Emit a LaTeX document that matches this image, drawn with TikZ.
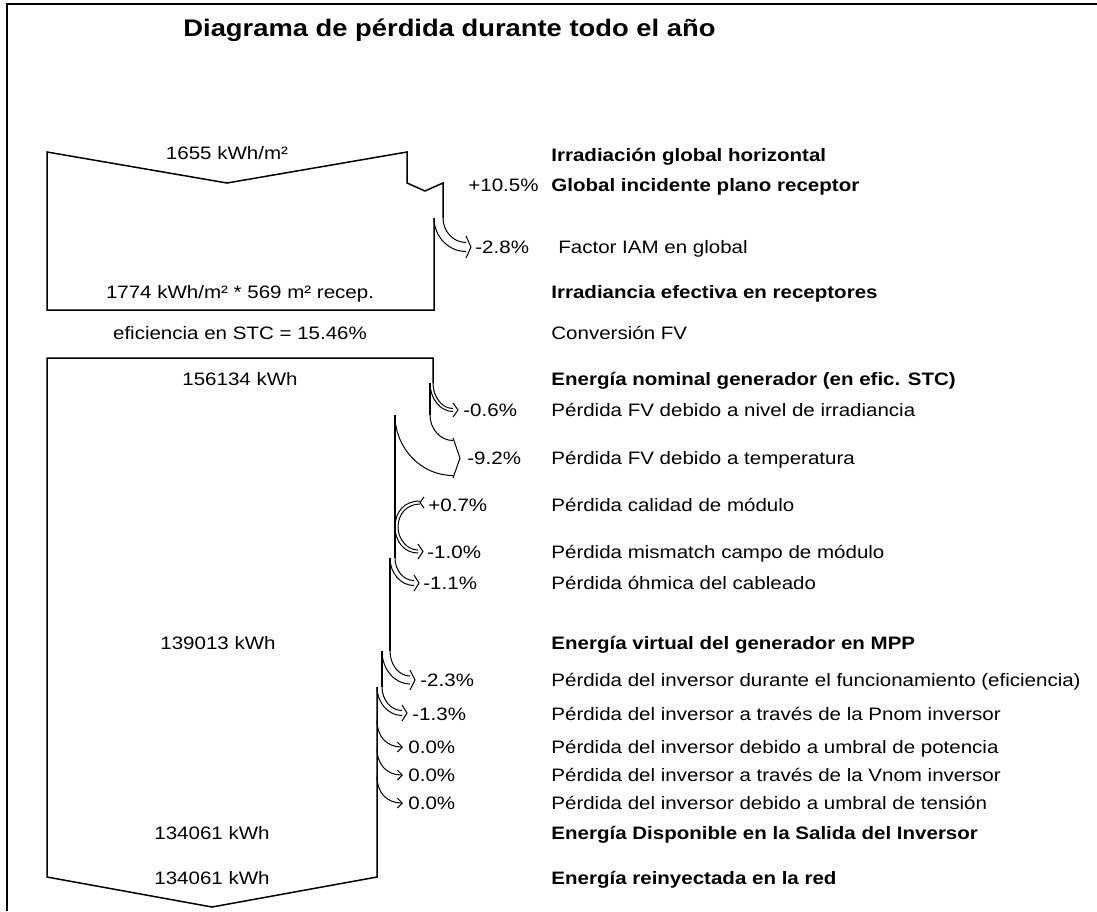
\documentclass[tikz,border=0pt]{standalone}
\usepackage{fontspec}
\setmainfont[FakeStretch=1.14]{Liberation Sans}
\usetikzlibrary{arrows.meta}
\tikzset{
  box/.style={line width=0.75pt, line join=miter},
  band/.style={line width=0.5pt, line join=miter},
  lbl/.style={inner sep=0pt, text height=6.45pt, text depth=0pt, font=\fontsize{9pt}{10pt}\selectfont},
  rlab/.style={lbl, anchor=west},
  blab/.style={lbl, anchor=west, font=\fontsize{9pt}{10pt}\selectfont\bfseries},
  clab/.style={lbl, anchor=center},
  plab/.style={lbl, anchor=west},
}
\newcommand{\lossband}[7]{%
  \pgfmathsetmacro{\wb}{(#1-#2)/2}%
  \pgfmathsetmacro{\yo}{#5-\wb}%
  \pgfmathsetmacro{\yi}{#5+\wb}%
  \pgfmathsetmacro{\ya}{#5-#6}%
  \pgfmathsetmacro{\yb}{#5+#6}%
  \pgfmathsetmacro{\cyo}{#3+0.55*(\yo-#3)}%
  \pgfmathsetmacro{\cyi}{#3+0.55*(\yi-#3)}%
  \pgfmathsetmacro{\cxo}{#4-0.55*(#4-#1)}%
  \pgfmathsetmacro{\cxi}{#4-0.55*(#4-#2)}%
  \pgfmathsetmacro{\xt}{#4+#7}%
  \draw[band] (#1,#3) .. controls (#1,\cyo) and (\cxo,\yo) .. (#4,\yo);
  \draw[band] (#2,#3) .. controls (#2,\cyi) and (\cxi,\yi) .. (#4,\yi);
  \draw[band] (#4,\ya) -- (\xt,#5) -- (#4,\yb);
}
\begin{document}
\begin{tikzpicture}[x=0.5pt,y=-0.5pt]
\useasboundingbox (0,0) rectangle (1097,911);
% frame
\draw[line width=0.9pt] (1097,4) -- (7,4) -- (7,911);
% title
\node[anchor=west, inner sep=0pt, text height=8.6pt, text depth=0pt, font=\fontsize{12pt}{14pt}\selectfont\bfseries] (title) at (183,28) {Diagrama de pérdida durante todo el año};

% upper box
\draw[box] (434,218) -- (434,310) -- (47,310) -- (47,152) -- (227,183) -- (407,152) -- (407,183) -- (425,191) -- (443,183) -- (443,218);
\lossband{443}{434}{218}{466}{247}{11}{5}

% lower box
\draw[box] (433,383) -- (433,358) -- (47,358) -- (47,877) -- (212,907) -- (377,877) -- (377,687);
\draw[box] (430,383) -- (430,415);
\draw[box] (395,415) -- (395,558);
\draw[box] (390,558) -- (390,651);
\draw[box] (382,651) -- (382,687);
\lossband{433}{430}{383}{453}{410}{7}{5}
\lossband{430}{395}{415}{453}{458}{20}{7}
% gain +0.7 and loss -1.0
\draw[band] (420,501) .. controls (404,501) and (395,512) .. (395,527) .. controls (395,541) and (404,553) .. (418,553);
\draw[band] (420,504) .. controls (407,504) and (398,514) .. (398,527) .. controls (398,539) and (407,550) .. (418,550);
\draw[band] (424,497) -- (420,502.5) -- (424,508);
\draw[band] (418,544) -- (423,551.5) -- (418,559);
\lossband{395}{390}{558}{414}{583}{8}{5}
\lossband{390}{382}{651}{410}{680}{10}{5}
\lossband{382}{377}{687}{402}{713}{8}{5}
\draw[band,-{Straight Barb[length=2.5pt,width=5pt]}] (377,720) .. controls (377,737) and (387,747) .. (403,747);
\draw[band,-{Straight Barb[length=2.5pt,width=5pt]}] (377,748) .. controls (377,765) and (387,775) .. (403,775);
\draw[band,-{Straight Barb[length=2.5pt,width=5pt]}] (377,776) .. controls (377,793) and (387,803) .. (403,803);

% left labels
\node[clab] (v1) at (227,153) {1655 kWh/m²};
\node[clab] (v2) at (240,292) {1774 kWh/m² * 569 m² recep.};
\node[clab] (v3) at (240,333) {eficiencia en STC = 15.46\%};
\node[clab] (v4) at (240,379) {156134 kWh};
\node[clab] (v5) at (218,643) {139013 kWh};
\node[clab] (v6) at (212,833) {134061 kWh};
\node[clab] (v7) at (212,878) {134061 kWh};

% percentages
\node[plab] (p1) at (468,185) {+10.5\%};
\node[plab] (p2) at (475,247) {-2.8\%};
\node[plab] (p3) at (463,410) {-0.6\%};
\node[plab] (p4) at (467,458) {-9.2\%};
\node[plab] (p5) at (428,505) {+0.7\%};
\node[plab] (p6) at (427,552) {-1.0\%};
\node[plab] (p7) at (423,583) {-1.1\%};
\node[plab] (p8) at (420,680) {-2.3\%};
\node[plab] (p9) at (412,714) {-1.3\%};
\node[plab] (p10) at (408,747) {0.0\%};
\node[plab] (p11) at (408,775) {0.0\%};
\node[plab] (p12) at (408,803) {0.0\%};

% right column
\node[blab] (r1) at (551,155) {Irradiación global horizontal};
\node[blab] (r2) at (551,185) {Global incidente plano receptor};
\node[rlab] (r3) at (558,247) {Factor IAM en global};
\node[blab] (r4) at (551,292) {Irradiancia efectiva en receptores};
\node[rlab] (r5) at (551,333) {Conversión FV};
\node[blab] (r6) at (551,379) {Energía nominal generador (en efic. STC)};
\node[rlab] (r7) at (551,410) {Pérdida FV debido a nivel de irradiancia};
\node[rlab] (r8) at (551,458) {Pérdida FV debido a temperatura};
\node[rlab] (r9) at (551,505) {Pérdida calidad de módulo};
\node[rlab] (r10) at (551,552) {Pérdida mismatch campo de módulo};
\node[rlab] (r11) at (551,583) {Pérdida óhmica del cableado};
\node[blab] (r12) at (551,643) {Energía virtual del generador en MPP};
\node[rlab] (r13) at (551,680) {Pérdida del inversor durante el funcionamiento (eficiencia)};
\node[rlab] (r14) at (551,714) {Pérdida del inversor a través de la Pnom inversor};
\node[rlab] (r15) at (551,747) {Pérdida del inversor debido a umbral de potencia};
\node[rlab] (r16) at (551,775) {Pérdida del inversor a través de la Vnom inversor};
\node[rlab] (r17) at (551,803) {Pérdida del inversor debido a umbral de tensión};
\node[blab] (r18) at (551,833) {Energía Disponible en la Salida del Inversor};
\node[blab] (r19) at (551,878) {Energía reinyectada en la red};
\end{tikzpicture}
\end{document}
